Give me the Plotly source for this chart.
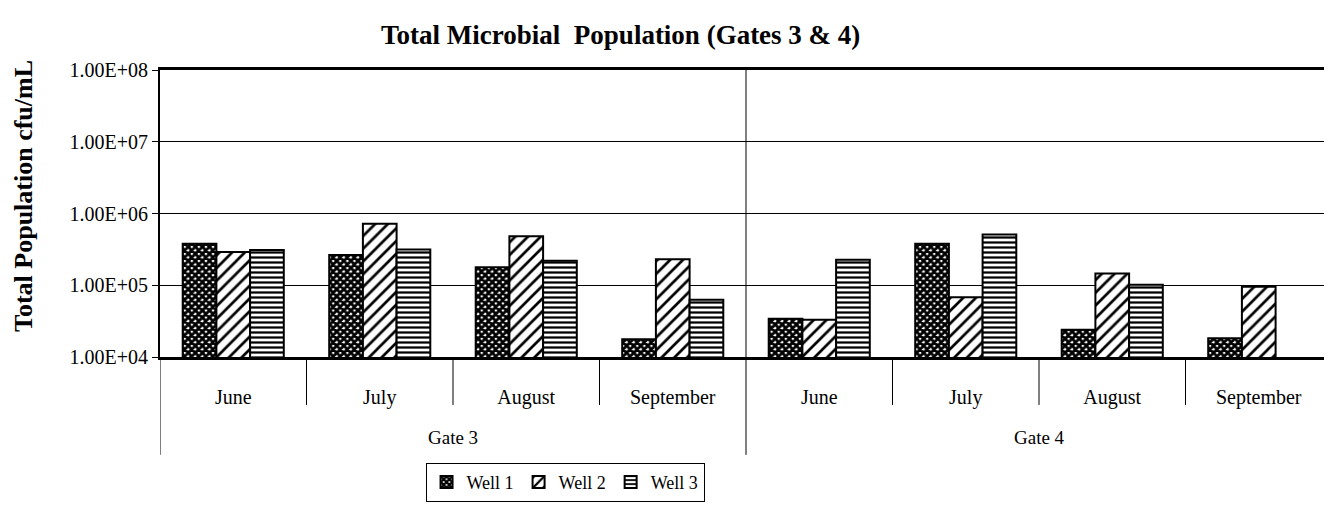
import plotly.graph_objects as go

months = ["June", "July", "August", "September", "June", "July", "August", "September"]
gates = ["Gate 3", "Gate 4"]
months_per_gate = 4
series_names = ["Well 1", "Well 2", "Well 3"]
well1 = [3.8e5, 2.65e5, 1.78e5, 1.77e4, 3.4e4, 3.8e5, 2.4e4, 1.83e4]
well2 = [2.9e5, 7.2e5, 4.8e5, 2.3e5, 3.3e4, 6.8e4, 1.46e5, 9.5e4]
well3 = [3.1e5, 3.15e5, 2.2e5, 6.3e4, 2.26e5, 5.1e5, 1.02e5, None]
ytick_vals = [1e4, 1e5, 1e6, 1e7, 1e8]
ytick_text = ["1.00E+04", "1.00E+05", "1.00E+06", "1.00E+07", "1.00E+08"]

FONT = "Liberation Serif, Times New Roman, serif"
xpos = list(range(len(months)))

patterns = [
    dict(shape="x", fgcolor="black", bgcolor="white", size=5, solidity=0.8, fillmode="replace"),
    dict(shape="/", fgcolor="black", bgcolor="white", size=9, solidity=0.3, fillmode="replace"),
    dict(shape="-", fgcolor="black", bgcolor="white", size=5, solidity=0.45, fillmode="replace"),
]

fig = go.Figure()
for name, vals, pat in zip(series_names, [well1, well2, well3], patterns):
    fig.add_trace(go.Bar(
        x=xpos, y=vals, name=name,
        marker=dict(color="white", pattern=pat, line=dict(color="black", width=2)),
    ))

shapes = []
n = len(months)
for i in range(n + 1):
    b = i - 0.5
    is_gate = (i % months_per_gate == 0)
    shapes.append(dict(type="line", xref="x", yref="paper", x0=b, x1=b,
                       y0=0, y1=(-0.341 if is_gate else -0.167),
                       line=dict(color="black", width=1)))
shapes.append(dict(type="line", xref="x", yref="paper", x0=months_per_gate - 0.5, x1=months_per_gate - 0.5,
                   y0=0, y1=1, line=dict(color="black", width=1)))

annotations = []
for g, name in enumerate(gates):
    center = g * months_per_gate + (months_per_gate - 1) / 2
    annotations.append(dict(text=name, x=center, xref="x", y=-0.282, yref="paper",
                            showarrow=False, font=dict(family=FONT, size=19, color="black"),
                            yanchor="middle"))
annotations.append(dict(text="<b>Total Population cfu/mL</b>", textangle=-90,
                        x=-0.116, xref="paper", y=0.561, yref="paper", showarrow=False,
                        font=dict(family=FONT, size=26, color="black"),
                        xanchor="center", yanchor="middle"))

fig.update_layout(
    width=1332, height=511,
    margin=dict(l=152, r=8, t=62, b=162),
    paper_bgcolor="white", plot_bgcolor="white",
    barmode="group", bargap=0.31, bargroupgap=0,
    title=dict(text="<b>Total Microbial  Population (Gates 3 &amp; 4)</b>",
               x=0.460, xanchor="center", y=1 - 27 / 511, yanchor="middle",
               font=dict(family=FONT, size=27, color="black")),
    font=dict(family=FONT, color="black"),
    showlegend=True,
    legend=dict(orientation="h", x=0.3456, xanchor="center", y=-0.369, yanchor="top",
                bordercolor="black", borderwidth=1, bgcolor="white",
                font=dict(family=FONT, size=18, color="black"),
                itemwidth=30, tracegroupgap=0),
    shapes=shapes,
    annotations=annotations,
)
fig.update_xaxes(
    range=[-0.5, n - 0.5], tickvals=xpos, ticktext=months,
    ticks="outside", ticklen=20, tickcolor="rgba(0,0,0,0)",
    tickfont=dict(family=FONT, size=20, color="black"),
    showgrid=False, zeroline=False,
    showline=True, linecolor="black", linewidth=2.5, mirror=True,
)
fig.update_yaxes(
    type="log", range=[4, 8], tickvals=ytick_vals, ticktext=ytick_text,
    ticks="outside", ticklen=6, tickcolor="black",
    tickfont=dict(family=FONT, size=20, color="black"),
    showgrid=True, gridcolor="black", gridwidth=1,
    showline=True, linecolor="black", linewidth=2, mirror=False,
)

fig.write_html("out.html")
